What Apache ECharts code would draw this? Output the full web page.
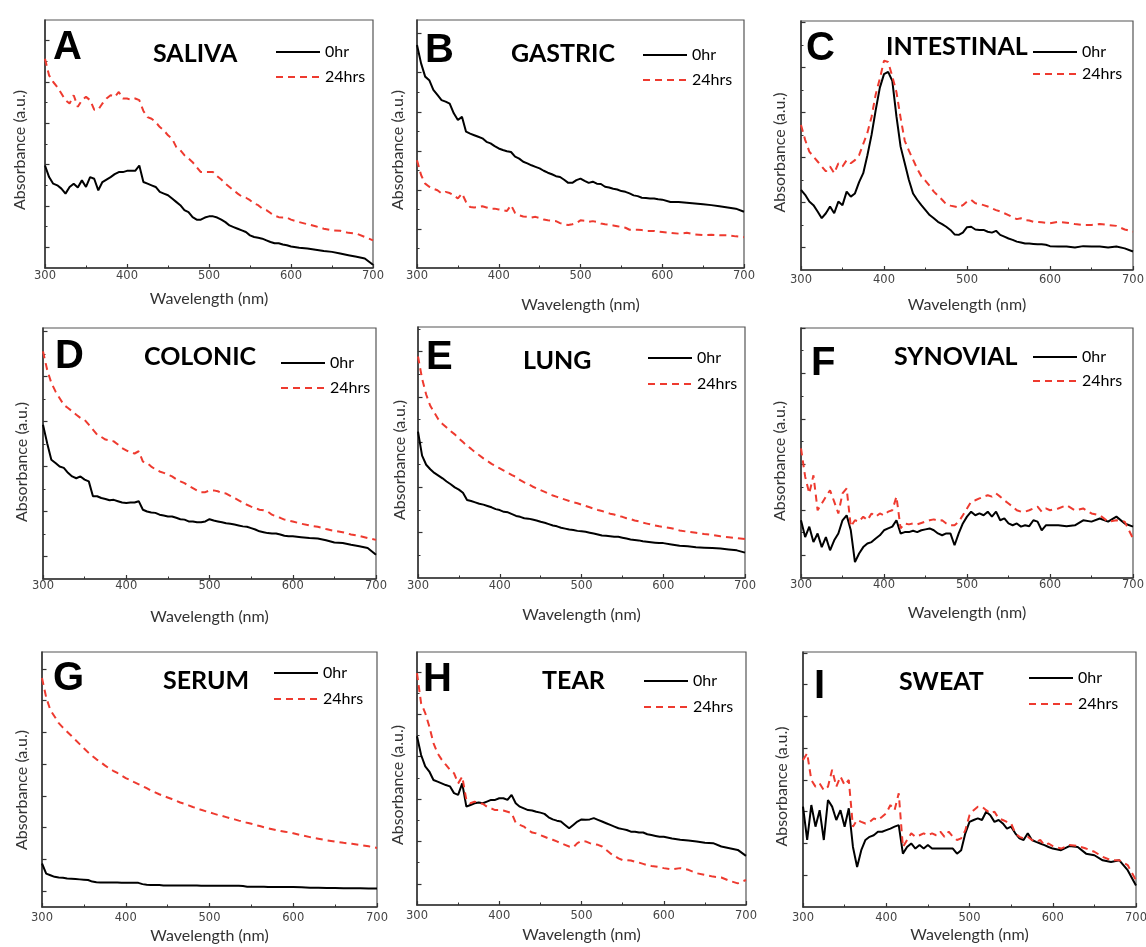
<!DOCTYPE html>
<html>
<head>
<meta charset="utf-8">
<script src="https://cdn.jsdelivr.net/npm/echarts@6/dist/echarts.min.js"></script>
<style>
html,body{margin:0;padding:0;background:#fff;}
#chart{width:1146px;height:947px;}
</style>
</head>
<body>
<div id="chart"></div>
<script>
// Wavelength grid (nm): 5 nm steps to 600, then 10 nm steps
const wavelengths = [
  300,305,310,315,320,325,330,335,340,345,350,355,360,365,370,375,380,385,390,395,
  400,405,410,415,420,425,430,435,440,445,450,455,460,465,470,475,480,485,490,495,
  500,505,510,515,520,525,530,535,540,545,550,555,560,565,570,575,580,585,590,595,
  600,
  610,620,630,640,650,660,670,680,690,700
];
const xTickLabels = [300, 400, 500, 600, 700];
const seriesNames = ['0hr', '24hrs'];
const panelLetters = ['A','B','C','D','E','F','G','H','I'];
const panelTitles = ['SALIVA','GASTRIC','INTESTINAL','COLONIC','LUNG','SYNOVIAL','SERUM','TEAR','SWEAT'];

// Absorbance (a.u.) spectra
const saliva0hr = [
  2.48,2.2,2.04,2.0,1.92,1.8,1.96,2.04,1.95,2.12,1.96,2.2,2.16,1.88,2.08,2.14,2.2,2.27,2.32,2.32,
  2.35,2.35,2.35,2.48,2.08,2.04,2.0,1.96,1.84,1.8,1.76,1.68,1.6,1.52,1.4,1.35,1.23,1.17,1.17,1.22,
  1.25,1.25,1.22,1.17,1.11,1.03,0.99,0.95,0.91,0.87,0.79,0.75,0.73,0.71,0.67,0.63,0.6,0.6,0.57,0.55,
  0.52,
  0.49,0.47,0.44,0.41,0.39,0.35,0.31,0.27,0.23,0.08
];
const saliva24hrs = [
  5.06,4.66,4.5,4.38,4.22,4.06,3.98,4.18,3.9,4.06,4.14,4.06,3.83,3.83,3.98,4.1,4.18,4.14,4.26,4.1,
  4.1,4.07,4.1,4.06,3.8,3.65,3.61,3.53,3.41,3.33,3.21,3.13,2.93,2.85,2.73,2.65,2.56,2.44,2.32,2.32,
  2.32,2.32,2.22,2.14,2.04,1.96,1.88,1.8,1.73,1.7,1.64,1.56,1.52,1.44,1.4,1.33,1.27,1.23,1.22,1.22,
  1.17,
  1.11,1.06,1.01,0.95,0.91,0.9,0.85,0.83,0.75,0.67
];
const gastric0hr = [
  5.71,5.24,4.9,4.81,4.56,4.43,4.3,4.26,4.21,3.96,3.79,3.87,3.49,3.44,3.4,3.36,3.32,3.23,3.19,3.12,
  3.06,3.02,2.99,2.97,2.85,2.8,2.72,2.68,2.63,2.59,2.55,2.49,2.44,2.4,2.35,2.33,2.26,2.18,2.18,2.25,
  2.29,2.23,2.18,2.21,2.16,2.15,2.08,2.06,2.03,2.01,1.97,1.95,1.91,1.86,1.84,1.8,1.79,1.78,1.78,1.76,
  1.75,
  1.69,1.69,1.67,1.65,1.63,1.61,1.58,1.55,1.52,1.44
];
const gastric24hrs = [
  2.76,2.38,2.16,2.08,2.03,1.99,1.91,1.95,1.92,1.86,1.78,1.91,1.69,1.56,1.55,1.56,1.58,1.55,1.52,1.52,
  1.5,1.48,1.46,1.61,1.41,1.35,1.32,1.31,1.29,1.31,1.28,1.24,1.22,1.21,1.2,1.15,1.12,1.1,1.12,1.15,
  1.22,1.21,1.18,1.2,1.18,1.14,1.12,1.11,1.09,1.07,1.05,1.03,0.98,0.98,0.98,0.97,0.95,0.95,0.95,0.93,
  0.92,
  0.9,0.88,0.9,0.86,0.84,0.85,0.84,0.84,0.81,0.79
];
const intestinal0hr = [
  1.78,1.67,1.52,1.44,1.3,1.15,1.26,1.41,1.26,1.52,1.44,1.74,1.63,1.7,1.95,2.15,2.55,3.0,3.55,4.05,
  4.35,4.4,4.2,3.41,2.74,2.37,2.0,1.7,1.56,1.44,1.33,1.22,1.15,1.07,1.02,0.96,0.89,0.79,0.78,0.83,
  0.95,0.96,0.9,0.89,0.89,0.85,0.83,0.87,0.78,0.74,0.7,0.67,0.63,0.61,0.59,0.59,0.58,0.57,0.57,0.56,
  0.53,
  0.52,0.52,0.5,0.53,0.52,0.52,0.5,0.52,0.48,0.41
];
const intestinal24hrs = [
  3.22,2.89,2.63,2.52,2.41,2.3,2.19,2.3,2.15,2.37,2.3,2.44,2.37,2.44,2.55,2.8,3.05,3.4,3.9,4.25,
  4.65,4.62,4.3,3.95,3.38,2.87,2.65,2.45,2.25,2.08,1.98,1.87,1.74,1.65,1.56,1.46,1.43,1.41,1.39,1.44,
  1.52,1.56,1.48,1.47,1.44,1.41,1.37,1.33,1.3,1.26,1.22,1.17,1.13,1.15,1.11,1.1,1.07,1.07,1.06,1.05,
  1.04,
  1.07,1.05,1.02,1.0,1.0,1.02,1.0,0.98,0.9,0.85
];
const colonic0hr = [
  3.43,3.02,2.65,2.58,2.5,2.47,2.36,2.28,2.24,2.28,2.21,2.17,1.84,1.84,1.8,1.78,1.75,1.76,1.73,1.7,
  1.69,1.7,1.7,1.73,1.54,1.5,1.48,1.47,1.43,1.41,1.39,1.39,1.36,1.33,1.32,1.28,1.28,1.26,1.26,1.28,
  1.33,1.3,1.28,1.26,1.24,1.23,1.21,1.19,1.17,1.16,1.13,1.1,1.06,1.04,1.02,1.01,1.01,0.99,0.96,0.95,
  0.95,
  0.93,0.91,0.9,0.86,0.81,0.8,0.76,0.73,0.69,0.54
];
const colonic24hrs = [
  5.06,4.65,4.36,4.17,4.02,3.87,3.8,3.73,3.65,3.58,3.54,3.43,3.32,3.21,3.16,3.1,3.08,3.06,2.99,2.91,
  2.86,2.81,2.79,2.84,2.61,2.58,2.5,2.44,2.39,2.36,2.32,2.28,2.22,2.17,2.13,2.07,2.02,1.97,1.93,1.93,
  1.97,1.97,1.95,1.91,1.9,1.85,1.8,1.75,1.7,1.65,1.61,1.58,1.54,1.53,1.5,1.43,1.39,1.36,1.32,1.3,
  1.28,
  1.23,1.19,1.16,1.11,1.07,1.04,0.99,0.96,0.91,0.87
];
const lung0hr = [
  3.23,2.7,2.5,2.4,2.32,2.26,2.2,2.13,2.07,2.0,1.95,1.88,1.72,1.7,1.67,1.64,1.62,1.59,1.56,1.52,
  1.5,1.46,1.45,1.41,1.37,1.35,1.32,1.31,1.29,1.27,1.24,1.22,1.19,1.16,1.14,1.11,1.09,1.07,1.06,1.04,
  1.03,1.02,1.0,0.98,0.96,0.94,0.93,0.92,0.91,0.91,0.89,0.87,0.85,0.84,0.83,0.81,0.8,0.79,0.78,0.77,
  0.77,
  0.74,0.71,0.7,0.68,0.67,0.66,0.65,0.63,0.61,0.56
];
const lung24hrs = [
  4.89,4.4,4.05,3.8,3.65,3.5,3.4,3.32,3.24,3.17,3.08,3.0,2.92,2.85,2.77,2.71,2.64,2.58,2.52,2.47,
  2.42,2.37,2.32,2.27,2.23,2.16,2.11,2.07,2.02,1.98,1.94,1.9,1.86,1.82,1.79,1.76,1.73,1.7,1.67,1.65,
  1.62,1.59,1.56,1.53,1.5,1.48,1.45,1.42,1.4,1.37,1.35,1.32,1.3,1.27,1.25,1.22,1.2,1.18,1.16,1.14,
  1.13,
  1.1,1.05,1.02,1.0,0.97,0.95,0.92,0.9,0.88,0.86
];
const synovial0hr = [
  1.27,0.9,1.13,0.79,0.98,0.68,0.9,0.61,0.83,0.98,1.27,1.38,1.05,0.35,0.54,0.68,0.76,0.79,0.87,0.94,
  1.05,1.09,1.13,1.27,0.98,1.01,1.01,1.04,1.01,1.05,1.07,1.09,1.05,0.98,0.94,0.98,0.98,0.72,0.98,1.2,
  1.35,1.46,1.38,1.42,1.38,1.46,1.35,1.46,1.27,1.31,1.2,1.16,1.2,1.13,1.16,1.14,1.27,1.24,1.05,1.16,
  1.16,
  1.16,1.14,1.16,1.27,1.24,1.31,1.24,1.35,1.2,1.13
];
const synovial24hrs = [
  2.85,2.23,1.86,2.26,1.49,1.64,1.79,1.93,1.68,1.42,1.86,1.97,1.13,1.27,1.24,1.35,1.27,1.42,1.35,1.42,
  1.38,1.46,1.49,1.79,1.09,1.2,1.18,1.2,1.18,1.21,1.24,1.27,1.29,1.26,1.27,1.2,1.16,1.16,1.24,1.38,
  1.53,1.68,1.71,1.75,1.79,1.82,1.79,1.86,1.79,1.71,1.64,1.57,1.49,1.46,1.46,1.49,1.53,1.57,1.46,1.53,
  1.49,
  1.53,1.6,1.49,1.53,1.42,1.38,1.24,1.27,1.24,0.87
];
const serum0hr = [
  1.37,1.05,1.0,0.95,0.93,0.92,0.9,0.89,0.88,0.87,0.86,0.85,0.8,0.78,0.77,0.77,0.77,0.77,0.77,0.76,
  0.76,0.76,0.76,0.76,0.72,0.7,0.69,0.69,0.69,0.68,0.68,0.68,0.68,0.68,0.68,0.68,0.68,0.68,0.67,0.67,
  0.67,0.67,0.67,0.67,0.67,0.67,0.67,0.67,0.66,0.64,0.64,0.64,0.64,0.64,0.63,0.63,0.63,0.63,0.63,0.63,
  0.63,
  0.62,0.61,0.61,0.6,0.6,0.59,0.59,0.59,0.58,0.58
];
const serum24hrs = [
  7.21,6.6,6.2,6.0,5.79,5.65,5.52,5.39,5.26,5.13,5.0,4.87,4.76,4.65,4.56,4.46,4.37,4.29,4.22,4.14,
  4.06,4.0,3.93,3.87,3.81,3.74,3.67,3.61,3.55,3.5,3.45,3.4,3.35,3.29,3.25,3.2,3.15,3.11,3.06,3.02,
  2.98,2.94,2.9,2.87,2.83,2.79,2.76,2.72,2.69,2.65,2.62,2.58,2.55,2.51,2.48,2.45,2.42,2.39,2.37,2.35,
  2.32,
  2.26,2.2,2.15,2.1,2.06,2.02,1.99,1.95,1.91,1.86
];
const tear0hr = [
  3.98,3.54,3.27,3.15,2.95,2.91,2.87,2.83,2.8,2.64,2.6,2.87,2.32,2.36,2.4,2.42,2.4,2.44,2.48,2.48,
  2.52,2.52,2.48,2.6,2.4,2.32,2.28,2.24,2.23,2.2,2.18,2.15,2.07,2.02,1.99,1.97,1.89,1.81,1.89,1.97,
  2.02,2.01,2.02,2.05,2.01,1.97,1.93,1.89,1.85,1.81,1.79,1.77,1.73,1.73,1.71,1.71,1.67,1.65,1.63,1.61,
  1.61,
  1.57,1.54,1.52,1.5,1.47,1.46,1.38,1.34,1.3,1.16
];
const tear24hrs = [
  5.47,4.76,4.53,4.21,3.82,3.58,3.43,3.31,3.19,3.11,2.87,3.03,2.48,2.4,2.44,2.4,2.39,2.32,2.28,2.24,
  2.24,2.23,2.2,2.17,1.94,1.89,1.85,1.77,1.71,1.69,1.65,1.61,1.57,1.54,1.5,1.46,1.42,1.38,1.36,1.46,
  1.51,1.5,1.46,1.44,1.42,1.38,1.3,1.22,1.16,1.1,1.06,1.06,1.05,1.02,1.0,0.97,0.94,0.92,0.91,0.89,
  0.87,
  0.84,0.87,0.83,0.75,0.71,0.67,0.65,0.57,0.51,0.59
];
const sweat0hr = [
  3.16,2.11,3.21,2.53,3.05,2.11,3.37,3.16,2.74,3.05,2.53,3.11,1.89,1.26,1.79,2.11,2.21,2.26,2.37,2.37,
  2.42,2.47,2.53,2.58,1.68,1.89,2.0,1.84,1.95,1.84,1.95,1.84,1.84,1.84,1.84,1.84,1.84,1.68,1.79,2.32,
  2.68,2.74,2.79,2.74,3.0,2.89,2.68,2.74,2.63,2.47,2.53,2.32,2.16,2.11,2.32,2.11,2.05,2.0,1.95,1.89,
  1.84,
  1.79,1.92,1.89,1.68,1.63,1.47,1.42,1.47,1.16,0.68
];
const sweat24hrs = [
  4.63,4.84,4.0,3.79,3.89,3.68,3.79,4.32,3.79,4.11,3.84,4.0,2.53,2.74,2.68,2.63,2.68,2.79,2.74,2.84,
  2.95,3.21,3.05,3.58,1.89,2.11,2.32,2.21,2.26,2.32,2.26,2.32,2.26,2.37,2.21,2.37,2.21,2.11,2.16,2.42,
  2.89,3.05,3.16,3.16,3.05,2.95,3.0,2.79,2.74,2.68,2.63,2.32,2.21,2.16,2.21,2.11,2.05,2.11,1.95,2.0,
  1.92,
  1.84,1.95,1.92,1.84,1.74,1.58,1.47,1.47,1.32,0.84
];

const spectra0hr = [saliva0hr, gastric0hr, intestinal0hr, colonic0hr, lung0hr, synovial0hr, serum0hr, tear0hr, sweat0hr];
const spectra24hrs = [saliva24hrs, gastric24hrs, intestinal24hrs, colonic24hrs, lung24hrs, synovial24hrs, serum24hrs, tear24hrs, sweat24hrs];

// Panel layout: plot box, y range and tick placement, text positions
const layouts = [
  {box:[45,20,328,248],  yMax:6.0,  major:[0.5,1.5,2.5,3.5,4.5,5.5], minor:[1,2,3,4,5],         lm:2, xng:22.5, yng:17.5, ysh:12, letter:[53,47.5],  title:[153,54],  legend:[275,52,25]},
  {box:[417,20,327,248], yMax:6.35, major:[1,2,3,4,5,6],             minor:[0.5,1.5,2.5,3.5,4.5,5.5], lm:2, xng:28.5, yng:11.5, ysh:12, letter:[425,51], title:[511,54],  legend:[642,55,25]},
  {box:[801,21,332,249], yMax:5.53, major:[0.5,1.5,2.5,3.5,4.5,5.5], minor:[1,2,3,4,5],         lm:4, xng:26.5, yng:13.5, ysh:14, letter:[806,48.5], title:[886,47],  legend:[1032,52,22]},
  {box:[43,328,333,251], yMax:5.58, major:[0.5,1.5,2.5,3.5,4.5,5.5], minor:[1,2,3,4,5],         lm:1, xng:29.5, yng:13.5, ysh:17, letter:[55,357],   title:[144,357], legend:[280,363,25]},
  {box:[418,327,327,251],yMax:5.54, major:[1,2,3,4,5],               minor:[0.5,1.5,2.5,3.5,4.5,5.5], lm:2, xng:28.5, yng:10.5, ysh:15, letter:[426,357.5], title:[523,361], legend:[647,358,26]},
  {box:[801,328,332,250],yMax:5.5,  major:[0.5,1.5,2.5,3.5,4.5,5.5], minor:[1,2,3,4,5],         lm:1, xng:26.5, yng:13.5, ysh:16, letter:[811,363.5], title:[894,357], legend:[1032,357,24]},
  {box:[42,652,335,255], yMax:8.03, major:[0.5,1.5,2.5,3.5,4.5,5.5,6.5,7.5], minor:[],          lm:5, xng:20.5, yng:12.5, ysh:21, letter:[53,679],   title:[163,681], legend:[273,673,26]},
  {box:[417,652,329,253],yMax:5.97, major:[0.5,1.5,2.5,3.5,4.5,5.5], minor:[1,2,3,4,5],         lm:5, xng:21.5, yng:11,   ysh:13, letter:[423,680],  title:[542,681], legend:[643,681,26]},
  {box:[803,652,333,255],yMax:8.03, major:[1,2,3,4,5,6,7,8],         minor:[],                  lm:5, xng:19.5, yng:13.5, ysh:14, letter:[814,687],  title:[899,682], legend:[1028,678,26]}
];

const RED = '#ee3a2f';
const AXIS = '#333';
const LABEL_FONT = 'Lato, "Open Sans", sans-serif';

const grids = [], xAxes = [], yAxes = [], series = [], legends = [], graphics = [];

layouts.forEach((L, i) => {
  grids.push({
    left: L.box[0], top: L.box[1], width: L.box[2], height: L.box[3],
    show: true, borderColor: '#555', borderWidth: 1.2, backgroundColor: 'transparent',
    outerBoundsMode: 'none', containLabel: false
  });
  xAxes.push({
    gridIndex: i, type: 'value', min: 300, max: 700, interval: 100,
    name: 'Wavelength (nm)', nameLocation: 'middle', nameGap: L.xng,
    nameTextStyle: {fontFamily: LABEL_FONT, fontSize: 16, color: '#333'},
    axisLine: {show: true, onZero: false, lineStyle: {color: AXIS, width: 1.5}},
    axisTick: {show: true, inside: true, length: 4, lineStyle: {color: AXIS, width: 1.2}},
    minorTick: {show: true, splitNumber: 2, length: 2.5, lineStyle: {color: AXIS, width: 1}},
    axisLabel: {
      show: true, margin: L.lm, color: '#444', fontFamily: '"DejaVu Sans", sans-serif', fontSize: 11.5,
      showMinLabel: true, showMaxLabel: true, hideOverlap: false,
      customValues: xTickLabels
    },
    splitLine: {show: false}, minorSplitLine: {show: false}
  });
  yAxes.push({
    gridIndex: i, type: 'value', min: 0, max: L.yMax, position: 'left',
    name: 'Absorbance (a.u.)', nameLocation: 'middle', nameGap: L.yng,
    nameTextStyle: {fontFamily: LABEL_FONT, fontSize: 16, color: '#333', padding: [0, L.ysh, 0, 0]},
    axisLine: {show: true, onZero: false, lineStyle: {color: AXIS, width: 1.5}},
    axisTick: {show: true, inside: true, length: 4.5, customValues: L.major, lineStyle: {color: AXIS, width: 1.2}},
    axisLabel: {show: false},
    splitLine: {show: false}
  });
  // second y axis on the same box carries the short intermediate ticks
  yAxes.push({
    gridIndex: i, type: 'value', min: 0, max: L.yMax, position: 'left', show: L.minor.length > 0,
    axisLine: {show: false},
    axisTick: {show: L.minor.length > 0, inside: true, length: 2.5, customValues: L.minor.length ? L.minor : [0], lineStyle: {color: AXIS, width: 1}},
    axisLabel: {show: false},
    splitLine: {show: false}
  });
  series.push({
    type: 'line', name: seriesNames[0], xAxisIndex: i, yAxisIndex: 2 * i,
    data: wavelengths.map((w, k) => [w, spectra0hr[i][k]]),
    showSymbol: false, symbol: 'none', z: 2,
    lineStyle: {color: '#000', width: 2}, itemStyle: {color: '#000'}
  });
  series.push({
    type: 'line', name: seriesNames[1], xAxisIndex: i, yAxisIndex: 2 * i,
    data: wavelengths.map((w, k) => [w, spectra24hrs[i][k]]),
    showSymbol: false, symbol: 'none', z: 3,
    lineStyle: {color: RED, width: 2, type: [7, 5]}, itemStyle: {color: RED}
  });
  legends.push({
    orient: 'vertical', left: L.legend[0], top: L.legend[1] - 8,
    itemWidth: 44, itemHeight: 16, itemGap: L.legend[2] - 16, padding: 0,
    selectedMode: false,
    itemStyle: {opacity: 0},
    lineStyle: {width: 2},
    textStyle: {fontFamily: LABEL_FONT, fontSize: 16, color: '#000', lineHeight: 16},
    data: seriesNames
  });
  graphics.push({
    type: 'text', x: L.letter[0], y: L.letter[1], z: 10,
    style: {text: panelLetters[i], fill: '#000', fontSize: 40, fontWeight: 'bold',
            fontFamily: '"Liberation Sans", Arial, sans-serif', align: 'left', verticalAlign: 'middle'}
  });
  graphics.push({
    type: 'text', x: L.title[0], y: L.title[1], z: 10,
    style: {text: panelTitles[i], fill: '#000', fontSize: 25, fontWeight: 'bold',
            fontFamily: LABEL_FONT, align: 'left', verticalAlign: 'middle'}
  });
});

const chart = echarts.init(document.getElementById('chart'), null, {renderer: 'canvas'});
chart.setOption({
  animation: false,
  backgroundColor: '#fff',
  grid: grids,
  xAxis: xAxes,
  yAxis: yAxes,
  legend: legends,
  series: series,
  graphic: graphics
});
</script>
</body>
</html>
